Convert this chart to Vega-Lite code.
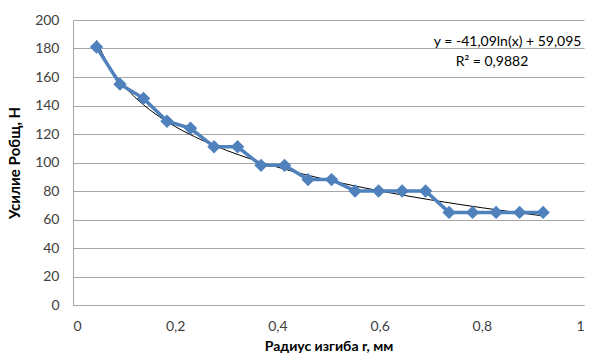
{
  "$schema": "https://vega.github.io/schema/vega-lite/v6.json",
  "width": 511,
  "height": 285,
  "autosize": {"type": "none"},
  "padding": {"left": 73, "top": 20, "right": 7, "bottom": 53},
  "background": "white",
  "config": {
    "view": {"stroke": null},
    "font": "Lato",
    "axis": {"labelFont": "Lato", "titleFont": "Lato", "labelColor": "#404040", "titleColor": "#000000"}
  },
  "datasets": {
    "pts": [
      {"r": 0.046, "p": 181}, {"r": 0.092, "p": 155}, {"r": 0.138, "p": 145}, {"r": 0.184, "p": 129},
      {"r": 0.230, "p": 124}, {"r": 0.276, "p": 111}, {"r": 0.322, "p": 111}, {"r": 0.368, "p": 98},
      {"r": 0.414, "p": 98}, {"r": 0.460, "p": 88}, {"r": 0.506, "p": 88}, {"r": 0.552, "p": 80},
      {"r": 0.598, "p": 80}, {"r": 0.644, "p": 80}, {"r": 0.690, "p": 80}, {"r": 0.736, "p": 65},
      {"r": 0.782, "p": 65}, {"r": 0.828, "p": 65}, {"r": 0.874, "p": 65}, {"r": 0.920, "p": 65}
    ],
    "trend": [
      {"r": 0.046, "p": 185.62}, {"r": 0.06, "p": 174.70}, {"r": 0.08, "p": 162.88}, {"r": 0.1, "p": 153.71},
      {"r": 0.125, "p": 144.54}, {"r": 0.15, "p": 137.05}, {"r": 0.175, "p": 130.71}, {"r": 0.2, "p": 125.23},
      {"r": 0.25, "p": 116.06}, {"r": 0.3, "p": 108.57}, {"r": 0.35, "p": 102.23}, {"r": 0.4, "p": 96.75},
      {"r": 0.45, "p": 91.91}, {"r": 0.5, "p": 87.58}, {"r": 0.55, "p": 83.66}, {"r": 0.6, "p": 80.08},
      {"r": 0.65, "p": 76.80}, {"r": 0.7, "p": 73.75}, {"r": 0.75, "p": 70.92}, {"r": 0.8, "p": 68.26},
      {"r": 0.85, "p": 65.77}, {"r": 0.92, "p": 62.52}
    ],
    "eq1": [{"r": 0.995, "p": 184.5, "t": "y = -41,09ln(x) + 59,095"}],
    "eq2": [{"r": 0.82, "p": 170.5, "t": "R² = 0,9882"}]
  },
  "encoding": {
    "x": {"field": "r", "type": "quantitative", "scale": {"domain": [0, 1]},
      "axis": {"values": [0, 0.2, 0.4, 0.6, 0.8, 1], "tickCount": 20, "format": ".1~f", "labelExpr": "replace(datum.label, '.', ',')",
        "grid": false, "ticks": false, "domainColor": "#A6A6A6", "labelFontSize": 14, "labelPadding": 14, "labelOverlap": false,
        "title": "Радиус изгиба r, мм", "titleFontSize": 14, "titleFontWeight": "bold", "titlePadding": 6}},
    "y": {"field": "p", "type": "quantitative", "scale": {"domain": [0, 200]},
      "axis": {"values": [0, 20, 40, 60, 80, 100, 120, 140, 160, 180, 200], "tickCount": 20, "labelOverlap": false,
        "gridColor": "#A6A6A6", "domainColor": "#A6A6A6",
        "ticks": false, "labelFontSize": 14, "labelPadding": 14, "title": "Усилие Pобщ, Н", "titleFontSize": 15,
        "titleFontWeight": "bold", "titlePadding": 12}}
  },
  "layer": [
    {
      "data": {"name": "trend"},
      "mark": {"type": "line", "color": "#000000", "strokeWidth": 1, "interpolate": "monotone"}
    },
    {
      "data": {"name": "pts"},
      "mark": {"type": "line", "color": "#4F81BD", "strokeWidth": 3.5, "point": {"shape": "diamond", "size": 180, "filled": true, "color": "#4F81BD", "opacity": 1}}
    },
    {
      "data": {"name": "eq1"},
      "mark": {"type": "text", "fontSize": 14, "font": "Lato", "color": "#000000", "baseline": "middle", "align": "right"},
      "encoding": {"text": {"field": "t"}}
    },
    {
      "data": {"name": "eq2"},
      "mark": {"type": "text", "fontSize": 14, "font": "Lato", "color": "#000000", "baseline": "middle", "align": "center"},
      "encoding": {"text": {"field": "t"}}
    }
  ]
}
